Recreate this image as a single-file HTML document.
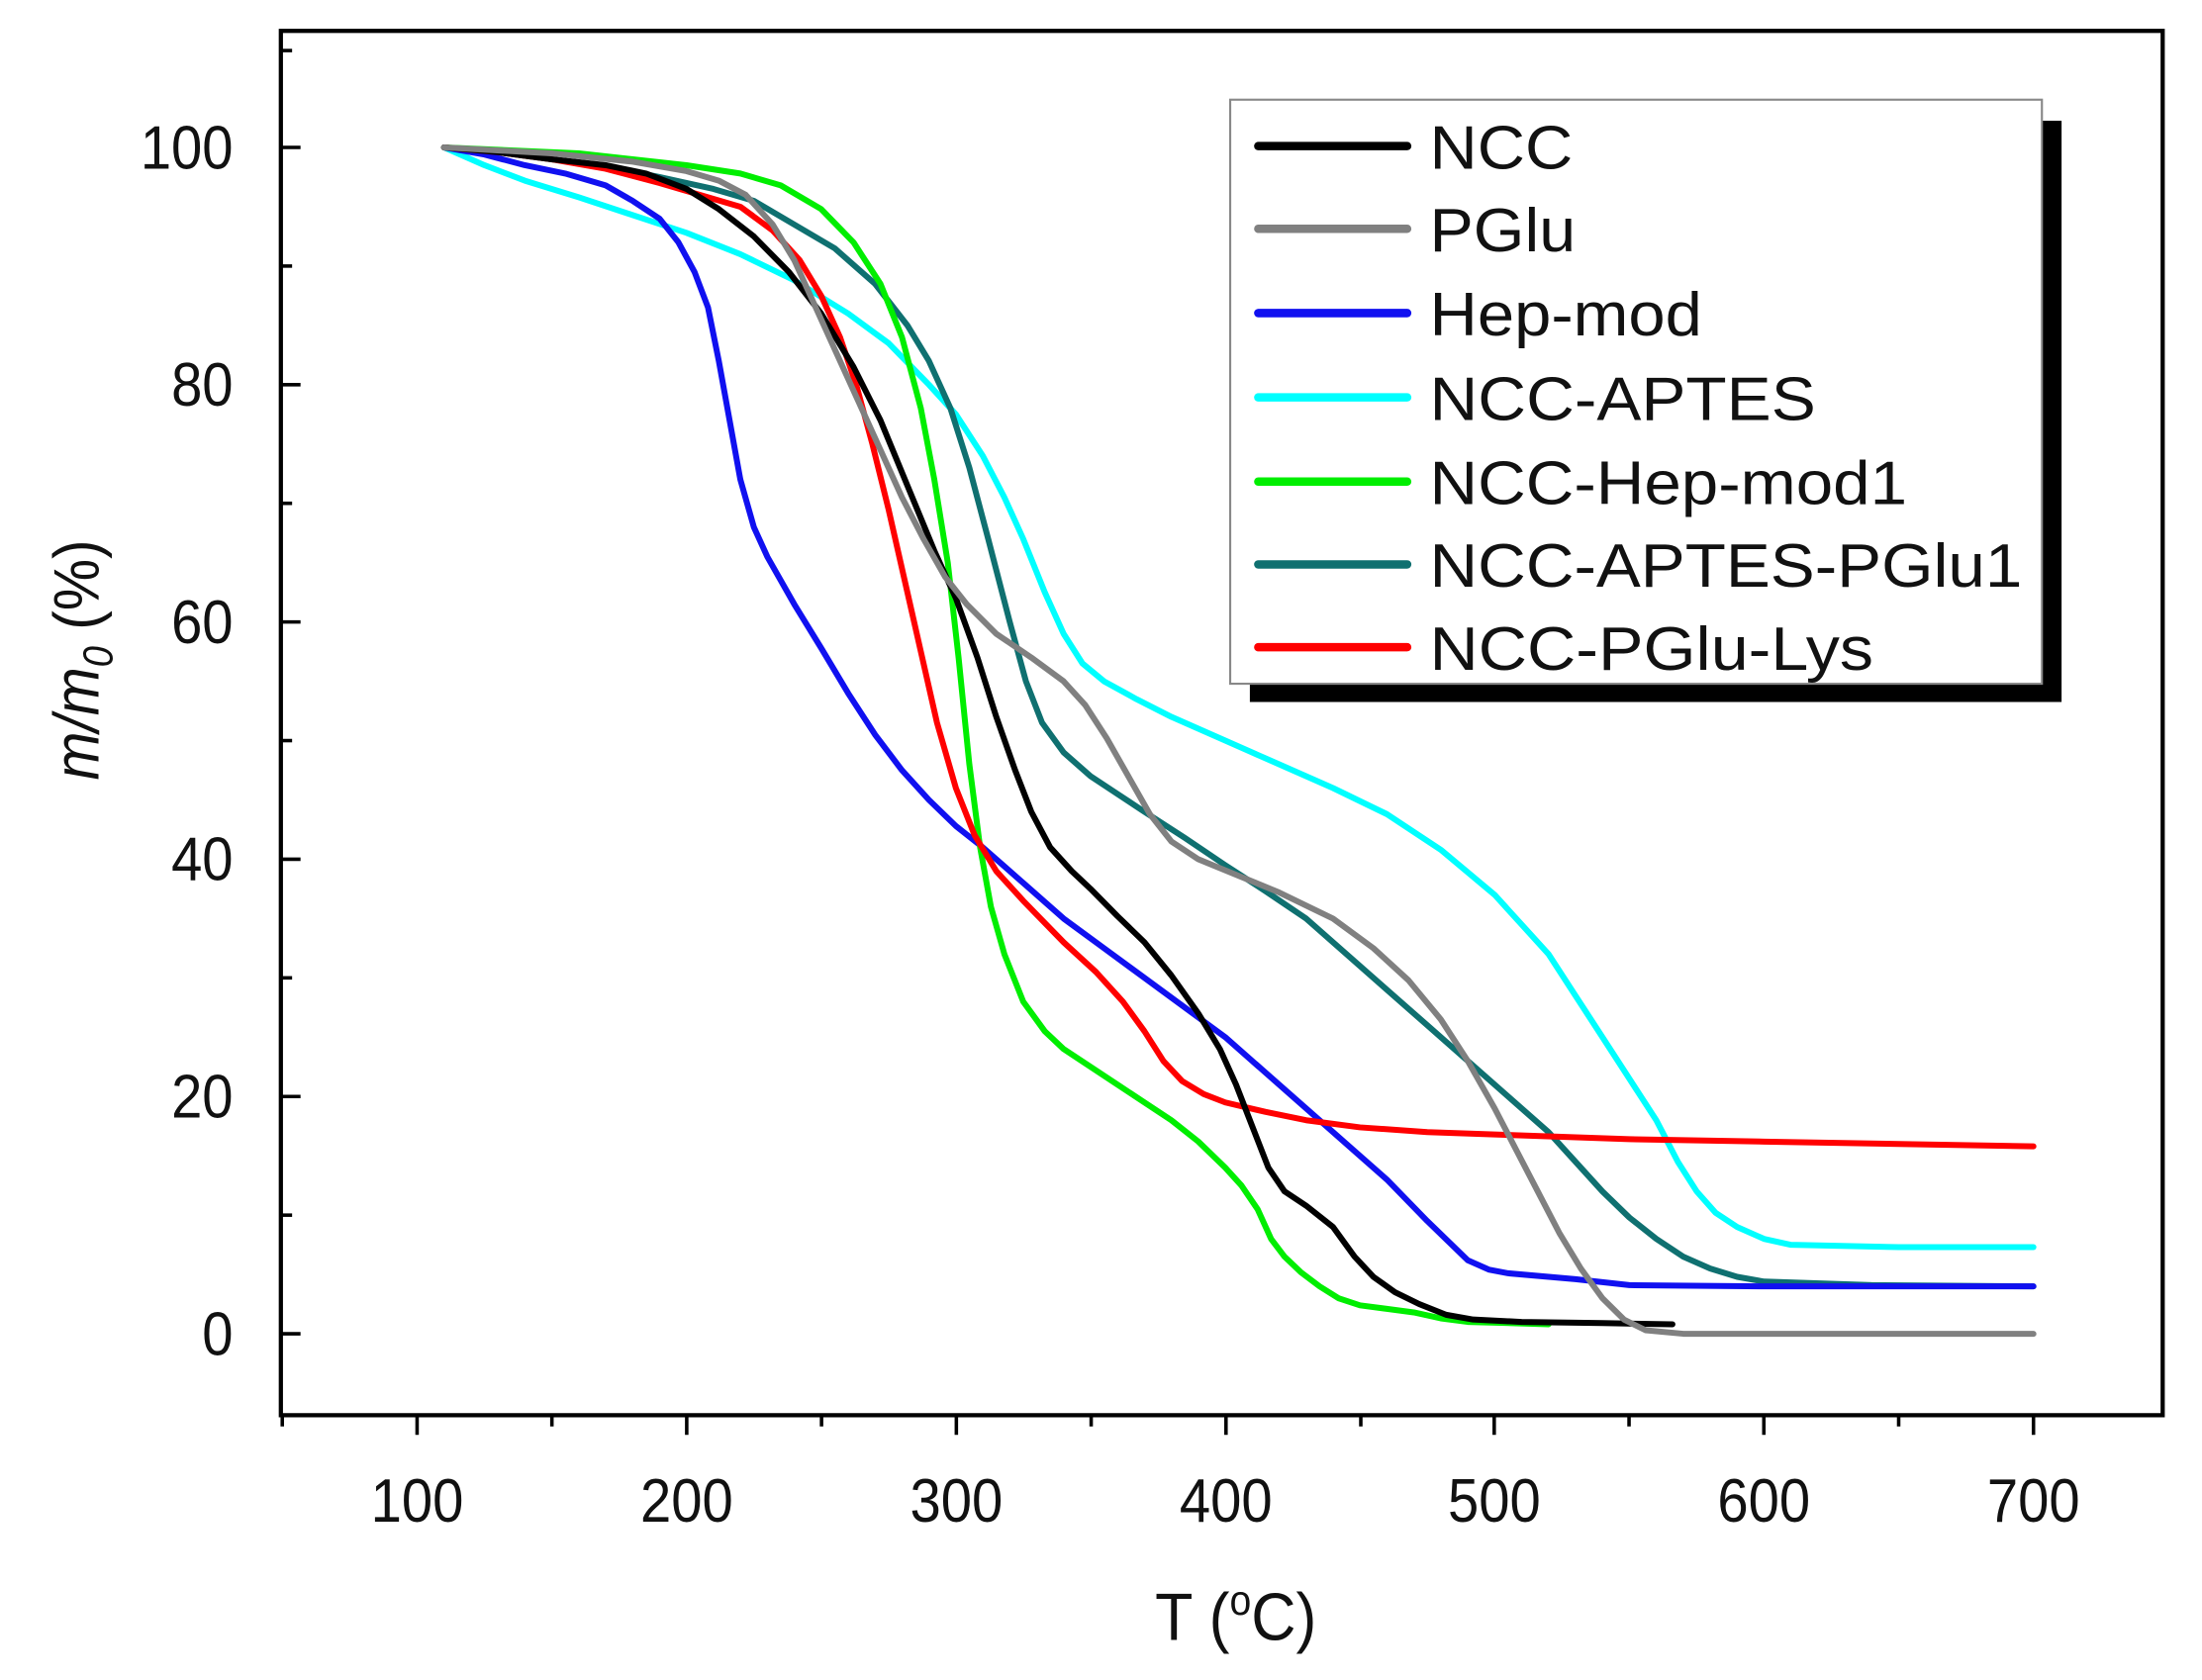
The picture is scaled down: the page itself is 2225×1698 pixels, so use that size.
<!DOCTYPE html>
<html><head><meta charset="utf-8"><style>html,body{margin:0;padding:0;background:#fff}svg{display:block}</style></head>
<body>
<svg width="2225" height="1698" viewBox="0 0 1568 1196.6" preserveAspectRatio="none" xmlns="http://www.w3.org/2000/svg" font-family="Liberation Sans, sans-serif">
<rect x="0" y="0" width="1568" height="1197" fill="#fff"/>
<rect x="200" y="22" width="1340" height="986" fill="none" stroke="#000" stroke-width="3"/>
<g stroke="#000" stroke-width="2.5">
<line x1="297" y1="1008" x2="297" y2="1022"/><line x1="489" y1="1008" x2="489" y2="1022"/><line x1="681" y1="1008" x2="681" y2="1022"/><line x1="873" y1="1008" x2="873" y2="1022"/><line x1="1064" y1="1008" x2="1064" y2="1022"/><line x1="1256" y1="1008" x2="1256" y2="1022"/><line x1="1448" y1="1008" x2="1448" y2="1022"/>
<line x1="201" y1="1008" x2="201" y2="1016"/><line x1="393" y1="1008" x2="393" y2="1016"/><line x1="585" y1="1008" x2="585" y2="1016"/><line x1="777" y1="1008" x2="777" y2="1016"/><line x1="969" y1="1008" x2="969" y2="1016"/><line x1="1160" y1="1008" x2="1160" y2="1016"/><line x1="1352" y1="1008" x2="1352" y2="1016"/>
<line x1="200" y1="105" x2="214" y2="105"/><line x1="200" y1="274" x2="214" y2="274"/><line x1="200" y1="443" x2="214" y2="443"/><line x1="200" y1="612" x2="214" y2="612"/><line x1="200" y1="781" x2="214" y2="781"/><line x1="200" y1="950" x2="214" y2="950"/>
<line x1="200" y1="189.5" x2="208" y2="189.5"/><line x1="200" y1="358.5" x2="208" y2="358.5"/><line x1="200" y1="527.5" x2="208" y2="527.5"/><line x1="200" y1="696.5" x2="208" y2="696.5"/><line x1="200" y1="865.5" x2="208" y2="865.5"/><line x1="200" y1="36" x2="208" y2="36"/>
</g>
<g font-size="44" fill="#111" text-anchor="middle">
<text transform="translate(297,1084) scale(0.9,1)">100</text><text transform="translate(489,1084) scale(0.9,1)">200</text><text transform="translate(681,1084) scale(0.9,1)">300</text><text transform="translate(873,1084) scale(0.9,1)">400</text><text transform="translate(1064,1084) scale(0.9,1)">500</text><text transform="translate(1256,1084) scale(0.9,1)">600</text><text transform="translate(1448,1084) scale(0.9,1)">700</text>
</g>
<g font-size="44" fill="#111" text-anchor="end">
<text transform="translate(166,120) scale(0.9,1)">100</text><text transform="translate(166,289) scale(0.9,1)">80</text><text transform="translate(166,458) scale(0.9,1)">60</text><text transform="translate(166,627) scale(0.9,1)">40</text><text transform="translate(166,796) scale(0.9,1)">20</text><text transform="translate(166,965) scale(0.9,1)">0</text>
</g>
<text transform="translate(880,1168) scale(0.92,1)" font-size="48" text-anchor="middle" fill="#111">T (<tspan font-size="30" dy="-18">o</tspan><tspan dy="18">C)</tspan></text>
<text transform="translate(70,470) rotate(-90) scale(0.9,1)" font-size="46" text-anchor="middle" fill="#111"><tspan font-style="italic">m/m</tspan><tspan font-style="italic" font-size="30" dy="10">0</tspan><tspan dy="-10"> (%)</tspan></text>
<g transform="matrix(1.9183 0 0 -8.45 105.17 950)" fill="none" stroke-width="6" stroke-linejoin="round" stroke-linecap="round">
<polyline vector-effect="non-scaling-stroke" stroke="#00ffff" points="110,100 125,98.5 140,97.2 160,95.8 180,94.3 200,92.8 220,91 240,88.8 260,86 275,83.5 290,80 300,77.5 310,74 318,70.5 325,67 333,62.5 340,59 347,56.5 355,55 367,53.5 380,52 400,50 420,48 440,46 460,43.8 480,40.8 500,37 512,34 520,32 530,28.5 540,25 550,21.5 560,18 568,14.5 575,12 582,10.2 590,9 600,8 610,7.5 650,7.3 700,7.3"/>
<polyline vector-effect="non-scaling-stroke" stroke="#0f7070" points="110,100 130,99.6 150,99 170,98.4 190,97.5 210,96.5 225,95.5 240,93.5 255,91.5 270,88.5 282,85 290,82 298,78 305,73 312,67 320,60 326,55 332,51.5 340,49 350,47 360,45.5 370,44 385,41.8 400,39.5 415,37.3 430,35 445,32 460,29 475,26 490,23 505,20 520,17 530,14.5 540,12 550,9.8 560,8 570,6.5 580,5.5 590,4.8 600,4.4 640,4.1 700,4"/>
<polyline vector-effect="non-scaling-stroke" stroke="#1010f0" points="110,100 125,99.4 140,98.5 155,97.8 170,96.8 180,95.5 190,94 197,92 203,89.5 208,86.5 212,82 216,77 220,72 225,68 230,65.5 240,61.5 250,57.8 260,54 270,50.5 280,47.5 290,45 300,42.8 310,41 325,38 340,35 355,32.5 370,30 385,27.5 400,25 415,22 430,19 445,16 460,13 475,9.5 490,6.2 498,5.4 505,5.1 530,4.6 550,4.1 600,4 700,4"/>
<polyline vector-effect="non-scaling-stroke" stroke="#00ee00" points="110,100 160,99.5 200,98.5 220,97.8 235,96.8 250,94.8 262,92 272,88.5 280,84 287,78 292,72 297,65 301,57 305,48 309,41 313,36 318,32 325,28 333,25.5 340,24 350,22.5 360,21 370,19.5 380,18 390,16.2 400,14 406,12.5 412,10.5 417,8 422,6.5 428,5.2 435,4 442,3 450,2.4 460,2.1 470,1.8 480,1.3 490,1 520,0.8"/>
<polyline vector-effect="non-scaling-stroke" stroke="#ff0000" points="110,100 130,99.6 150,99 170,98.2 190,97 205,96 220,95 232,93 242,90.5 250,87.5 257,84 263,80 269,75 275,69.5 281,63.5 287,57.5 293,51.5 300,46 307,42 315,39 325,36.5 340,33 352,30.5 362,28 370,25.5 377,23 384,21.3 392,20.2 400,19.5 415,18.7 430,18 450,17.4 475,17 500,16.8 550,16.4 600,16.2 650,16 700,15.8"/>
<polyline vector-effect="non-scaling-stroke" stroke="#000" points="110,100 130,99.6 150,99 170,98.5 185,97.8 200,96.5 212,94.8 225,92.5 238,89.5 250,86 262,81.5 272,77 282,71.5 292,66 300,62 308,57 315,52 322,47.5 328,44 335,41 343,39 350,37.5 360,35.2 370,33 380,30.2 390,27 398,24 404,21 410,17.5 416,14 422,12 430,10.8 440,9 448,6.5 455,4.8 463,3.5 472,2.5 482,1.6 492,1.2 510,1 540,0.9 566,0.8"/>
<polyline vector-effect="non-scaling-stroke" stroke="#808080" points="110,100 150,99.5 180,98.8 200,98 212,97.2 222,96 232,93.5 240,90.5 248,86.5 256,82.5 264,78.5 272,74.5 280,70.5 288,67 296,63.8 304,61.5 315,59 328,57 340,55 348,53 356,50.2 364,47 372,43.8 380,41.5 390,40 405,38.6 420,37.2 440,35 455,32.5 468,29.8 480,26.5 490,23 500,19 508,15.5 516,12 524,8.5 532,5.5 540,3 548,1.2 556,0.3 570,0 600,0 700,0"/>
</g>
<rect x="890" y="86" width="578" height="414" fill="#000"/>
<rect x="876" y="71" width="578" height="416" fill="#fff" stroke="#888" stroke-width="1.5"/>
<g stroke-width="6" stroke-linecap="round">
<line x1="896" y1="104" x2="1002" y2="104" stroke="#000"/>
<line x1="896" y1="163" x2="1002" y2="163" stroke="#808080"/>
<line x1="896" y1="223" x2="1002" y2="223" stroke="#1010f0"/>
<line x1="896" y1="283" x2="1002" y2="283" stroke="#00ffff"/>
<line x1="896" y1="343" x2="1002" y2="343" stroke="#00ee00"/>
<line x1="896" y1="402" x2="1002" y2="402" stroke="#0f7070"/>
<line x1="896" y1="461" x2="1002" y2="461" stroke="#ff0000"/>
</g>
<g font-size="44" fill="#111">
<text x="1018" y="120" textLength="102" lengthAdjust="spacingAndGlyphs">NCC</text>
<text x="1018" y="179" textLength="104" lengthAdjust="spacingAndGlyphs">PGlu</text>
<text x="1018" y="239" textLength="194" lengthAdjust="spacingAndGlyphs">Hep-mod</text>
<text x="1018" y="299" textLength="275" lengthAdjust="spacingAndGlyphs">NCC-APTES</text>
<text x="1018" y="359" textLength="340" lengthAdjust="spacingAndGlyphs">NCC-Hep-mod1</text>
<text x="1018" y="418" textLength="422" lengthAdjust="spacingAndGlyphs">NCC-APTES-PGlu1</text>
<text x="1018" y="477" textLength="316" lengthAdjust="spacingAndGlyphs">NCC-PGlu-Lys</text>
</g>
</svg>
</body></html>
